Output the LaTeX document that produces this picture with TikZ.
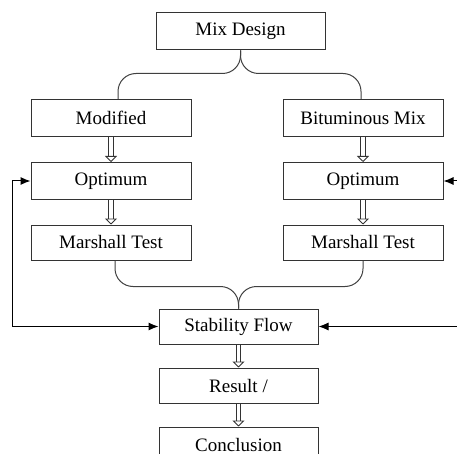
\documentclass[tikz,border=0pt]{standalone}
\usepackage{fontspec}
\setmainfont{Liberation Serif}
\usetikzlibrary{arrows.meta}
\usetikzlibrary{positioning}
\tikzstyle{block}=[draw=black!80, line width=1pt, minimum width=160pt, minimum height=37pt, inner sep=0pt, font=\fontsize{19}{21}\selectfont]
\tikzstyle{brace}=[draw=black!75, line width=1pt, rounded corners=18pt]
\tikzstyle{hollow}=[draw=black!80, double, double distance=3.5pt, line width=0.8pt, -{Triangle[open, length=6pt, width=12pt]}]
\tikzstyle{feedback}=[draw=black, line width=1pt]

\begin{document}
\begin{tikzpicture}[x=1pt, y=-1pt]
  \useasboundingbox (0,0) rectangle (457,454);
  \node[block, minimum width=169pt] (mix) at (240.5,31.5) {Mix Design};
  \node[block] (mod) at (111,118) {Modified};
  \node[block] (bit) at (363,118) {Bituminous Mix};
  \node[block] (optL) at (111,181) {Optimum};
  \node[block] (optR) at (363,181) {Optimum};
  \node[block, minimum height=35pt] (marL) at (111,242.5) {Marshall Test};
  \node[block, minimum height=35pt] (marR) at (363,242.5) {Marshall Test};
  \node[block, minimum width=159pt, minimum height=35pt] (stab) at (238.5,326.5) {Stability Flow};
  \node[block, minimum width=159pt, minimum height=35pt] (res) at (238.5,385.5) {Result /};
  \node[block, minimum width=159pt, minimum height=35pt] (conc) at (238.5,444.5) {Conclusion};

  % braces
  \draw[brace] (mix.south) -- ++(0,23) -| ([xshift=7pt]mod.north);
  \draw[brace] (mix.south) -- ++(0,23) -| ([xshift=-2pt]bit.north);
  \draw[brace] ([xshift=4pt]marL.south) -- ++(0,26) -| (stab.north);
  \draw[brace] (marR.south) -- ++(0,26) -| (stab.north);

  % hollow arrows
  \draw[hollow] (mod) -- (optL);
  \draw[hollow] (optL) -- (marL);
  \draw[hollow] (bit) -- (optR);
  \draw[hollow] (optR) -- (marR);
  \draw[hollow] (stab) -- (res);
  \draw[hollow] (res) -- (conc);

  % feedback
  \coordinate (edgeA) at (457,181);
  \coordinate (edgeB) at (457,326.5);
  \draw[feedback, {Latex[length=10pt, width=8pt]}-{Latex[length=10pt, width=8pt]}] (optL.west) -- ++(-18,0) |- (stab.west);
  \draw[feedback, -{Latex[length=10pt, width=8pt]}] (edgeA) -- (optR.east);
  \draw[feedback, -{Latex[length=10pt, width=8pt]}] (edgeB) -- (stab.east);
\end{tikzpicture}
\end{document}
